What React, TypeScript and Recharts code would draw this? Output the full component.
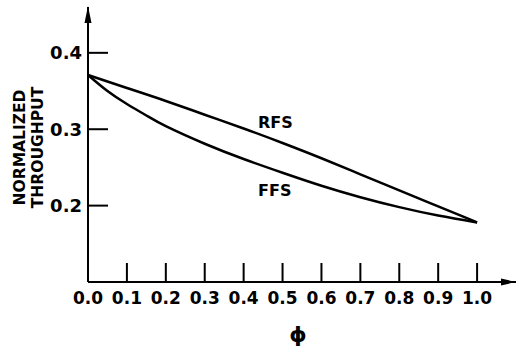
import { LineChart, Line, XAxis, YAxis, ReferenceDot, Label } from "recharts";

// throughput vs phi
const phiRfs = [0, 0.1, 0.2, 0.3, 0.4, 0.5, 0.6, 0.7, 0.8, 0.9, 1.0];
const rfsValues = [0.371, 0.354, 0.337, 0.319, 0.301, 0.282, 0.262, 0.241, 0.22, 0.199, 0.178];

const phiFfs = [0, 0.05, 0.1, 0.15, 0.2, 0.3, 0.4, 0.5, 0.6, 0.7, 0.8, 0.9, 1.0];
const ffsValues = [0.371, 0.35, 0.333, 0.318, 0.304, 0.281, 0.261, 0.243, 0.226, 0.211, 0.198, 0.187, 0.178];

const xTicks = [0, 0.1, 0.2, 0.3, 0.4, 0.5, 0.6, 0.7, 0.8, 0.9, 1.0];
const yTicks = [0.2, 0.3, 0.4];

const curveNames = ["RFS", "FFS"];
const namePhi = [0.437, 0.437];
const nameValue = [0.302, 0.212];

const X_MAX = 1.1;
const Y_MIN = 0.1;
const Y_MAX = 0.46;

const FONT = "'DejaVu Sans', sans-serif";
const INK = "#000";

const rfsData = phiRfs.map((x, i) => ({ x, y: rfsValues[i] }));
const ffsData = phiFfs.map((x, i) => ({ x, y: ffsValues[i] }));

function XTick({ x, y, payload }: any) {
  return (
    <g>
      <line x1={x} x2={x} y1={y} y2={y - 19} stroke={INK} strokeWidth={2} />
      <text x={x} y={y + 22} textAnchor="middle" fontFamily={FONT} fontWeight="bold" fontSize={17} fill={INK}>
        {Number(payload.value).toFixed(1)}
      </text>
    </g>
  );
}

function YTick({ x, y, payload }: any) {
  return (
    <g>
      <line x1={x} x2={x + 20} y1={y} y2={y} stroke={INK} strokeWidth={2} />
      <text x={x - 6} y={y + 6.5} textAnchor="end" fontFamily={FONT} fontWeight="bold" fontSize={18} fill={INK}>
        {Number(payload.value).toFixed(1)}
      </text>
    </g>
  );
}

function YTitle({ viewBox }: any) {
  const cy = viewBox.y + viewBox.height / 2 + 3;
  return (
    <g fontFamily={FONT} fontWeight="bold" fontSize={15.5} fill={INK} textAnchor="middle">
      <text transform={`translate(25, ${cy}) rotate(-90)`}>NORMALIZED</text>
      <text transform={`translate(43, ${cy}) rotate(-90)`}>THROUGHPUT</text>
    </g>
  );
}

export default function App() {
  return (
    <div style={{ position: "absolute", left: 0, top: 0, background: "#fff" }}>
      <LineChart width={517} height={347} margin={{ top: 7, right: 1, left: 0, bottom: 0 }}>
        <XAxis
          dataKey="x"
          type="number"
          domain={[0, X_MAX]}
          ticks={xTicks}
          height={65}
          tickSize={0}
          tickMargin={0}
          tick={<XTick />}
          axisLine={{ stroke: INK, strokeWidth: 2 }}
          tickLine={false}
        >
          <Label
            value="ϕ"
            position="insideBottom"
            offset={5}
            dx={-4}
            style={{ fontFamily: FONT, fontSize: 22, fontWeight: "bold", fill: INK }}
          />
        </XAxis>
        <YAxis
          type="number"
          domain={[Y_MIN, Y_MAX]}
          ticks={yTicks}
          width={88}
          tickSize={0}
          tickMargin={0}
          tick={<YTick />}
          axisLine={{ stroke: INK, strokeWidth: 2 }}
          tickLine={false}
          label={<YTitle />}
        />
        <Line
          data={rfsData}
          dataKey="y"
          type="natural"
          stroke={INK}
          strokeWidth={2.5}
          dot={false}
          isAnimationActive={false}
        />
        <Line
          data={ffsData}
          dataKey="y"
          type="natural"
          stroke={INK}
          strokeWidth={2.5}
          dot={false}
          isAnimationActive={false}
        />
        {curveNames.map((name, i) => (
          <ReferenceDot
            key={name}
            x={namePhi[i]}
            y={nameValue[i]}
            ifOverflow="visible"
            shape={(p: any) => (
              <text x={p.cx} y={p.cy} fontFamily={FONT} fontWeight="bold" fontSize={16} fill={INK}>
                {name}
              </text>
            )}
          />
        ))}
        {/* axis arrowheads */}
        <ReferenceDot
          x={X_MAX}
          y={Y_MIN}
          ifOverflow="visible"
          shape={(p: any) => <path d={`M${p.cx} ${p.cy} l-15 -3.5 l0 7 z`} fill={INK} />}
        />
        <ReferenceDot
          x={0}
          y={Y_MAX}
          ifOverflow="visible"
          shape={(p: any) => <path d={`M${p.cx} ${p.cy - 1} l-3.5 17 l7 0 z`} fill={INK} />}
        />
      </LineChart>
    </div>
  );
}
